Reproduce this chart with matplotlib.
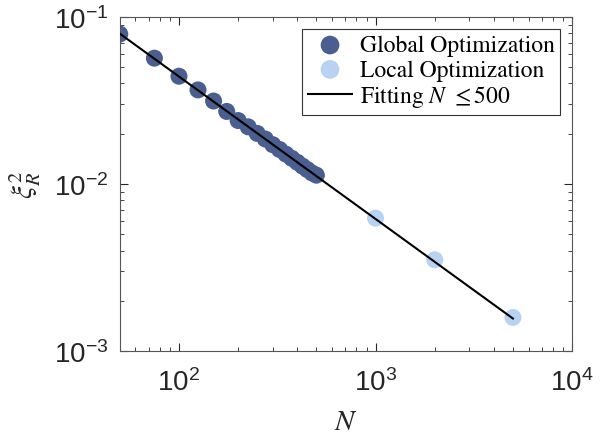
import numpy as np
import matplotlib.pyplot as plt
from matplotlib.ticker import FuncFormatter, LogLocator

plt.rcParams['mathtext.fontset'] = 'custom'
plt.rcParams['mathtext.rm'] = 'STIXGeneral'
plt.rcParams['mathtext.it'] = 'STIXGeneral:italic'
plt.rcParams['mathtext.bf'] = 'STIXGeneral:bold'
plt.rcParams['mathtext.sf'] = 'Liberation Sans'
plt.rcParams['mathtext.fallback'] = 'stix'

# 数据
n_global = [50, 75, 100, 125, 150, 175, 200, 225, 250, 275, 300,
            325, 350, 375, 400, 425, 450, 475, 500]
xi_global = [0.079, 0.0567, 0.0442, 0.0366, 0.0314, 0.0272, 0.0240, 0.0220,
             0.0201, 0.0186, 0.0172, 0.0161, 0.0151, 0.01425, 0.0135,
             0.0128, 0.0122, 0.01165, 0.0113]
n_local = [1000, 2000, 5000]
xi_local = [0.00625, 0.00352, 0.00159]

c_global = '#4a5e8f'
c_local = '#b8d3f1'

# 拟合 N<=500
p = np.polyfit(np.log10(n_global), np.log10(xi_global), 1)
n_fit = np.array([50, 5000])
xi_fit = 10 ** np.polyval(p, np.log10(n_fit))

fig = plt.figure(figsize=(6.08, 4.39), dpi=100)
ax = fig.add_axes([0.197, 0.198, 0.744, 0.761])

ax.scatter(n_global, xi_global, s=150, color=c_global, edgecolors='none',
           label='Global Optimization', zorder=2)
ax.scatter(n_local, xi_local, s=150, color=c_local, edgecolors='none',
           label='Local Optimization', zorder=2)
ax.plot(n_fit, xi_fit, color='black', lw=1.5, label=r'Fitting $N$ $\leq$500', zorder=3)

ax.set_xscale('log')
ax.set_yscale('log')
ax.set_xlim(50, 1e4)
ax.set_ylim(1e-3, 1e-1)

def fmt(v, pos):
    e = int(round(np.log10(v)))
    return r'$\mathsf{10^{%d}}$' % e

ax.xaxis.set_major_locator(LogLocator(base=10, numticks=10))
ax.yaxis.set_major_locator(LogLocator(base=10, numticks=10))
ax.xaxis.set_major_formatter(FuncFormatter(fmt))
ax.yaxis.set_major_formatter(FuncFormatter(fmt))
ax.tick_params(which='both', direction='in', top=True, right=True,
               colors='#262626', labelsize=20)
ax.tick_params(axis='x', which='major', pad=12)
ax.tick_params(axis='y', which='major', pad=8)
ax.tick_params(which='major', length=6, width=0.8)
ax.tick_params(which='minor', length=3, width=0.6)
for s in ax.spines.values():
    s.set_color('#555555')
    s.set_linewidth(0.8)

ax.set_xlabel(r'$N$', fontsize=21, color='#262626', labelpad=8)
ax.set_ylabel(r'$\xi_R^2$', fontsize=21, color='#262626', labelpad=8)

leg = ax.legend(loc='upper right', prop={'family': 'STIXGeneral', 'size': 17},
                frameon=True, fancybox=False, edgecolor='black',
                borderaxespad=0.5, handletextpad=0.3, borderpad=0.25,
                labelspacing=0.12, handlelength=1.9, markerscale=1.1)
leg.get_frame().set_linewidth(0.8)

plt.savefig('out.png', dpi=100)
